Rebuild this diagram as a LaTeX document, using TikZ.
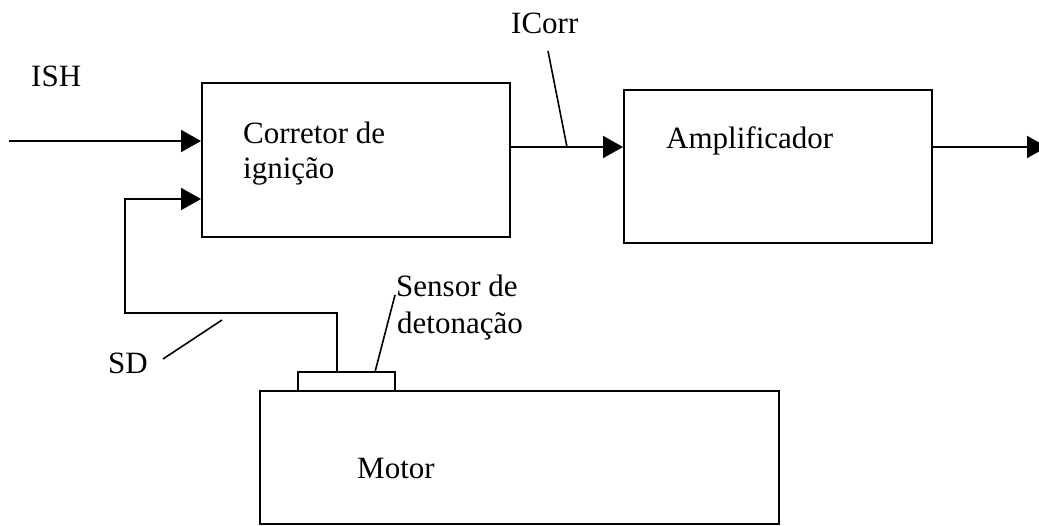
\documentclass[tikz,border=0pt]{standalone}
\usepackage{fontspec}
\setmainfont{Liberation Serif}
\usetikzlibrary{arrows.meta}
\begin{document}
\begin{tikzpicture}[x=1pt,y=-1pt,
  blk/.style={draw,line width=2pt,inner sep=0pt,minimum width=#1},
  lbl/.style={inner sep=0pt,anchor=base west,font=\fontsize{31}{36}\selectfont},
  wire/.style={line width=2pt},
  arr/.style={line width=2pt,-{Triangle[length=20pt,width=22pt]}},
  lead/.style={line width=1.6pt}]
\useasboundingbox (0,0) rectangle (1039,525);
% blocks
\node[blk=308pt,minimum height=154pt] (cor) at (356,160) {};
\node[blk=308pt,minimum height=153pt] (amp) at (778,166.5) {};
\node[blk=519pt,minimum height=133pt] (motor) at (519.5,457.5) {};
\node[blk=97pt,minimum height=19pt] (sensor) at (346.5,381.5) {};
% texts
\node[lbl] (tish) at (31,86) {ISH};
\node[lbl] (ticorr) at (511,33) {ICorr};
\node[lbl] (tcor1) at (243,143) {Corretor de};
\node[lbl] (tcor2) at (243,178) {ignição};
\node[lbl] (tamp) at (666,148) {Amplificador};
\node[lbl] (tsen1) at (396,296) {Sensor de};
\node[lbl] (tsen2) at (397,333) {detonação};
\node[lbl] (tsd) at (108,373) {SD};
\node[lbl] (tmot) at (357,478) {Motor};
% coordinates
\coordinate (ishin) at (9,141);
\coordinate (yl) at (0,147);
\coordinate (out) at (1047,147);
\coordinate (fb1) at (125,313);
\coordinate (fb2) at (337,313);
\coordinate (c2) at (125,199);
% connectors
\draw[arr] (ishin) -- (ishin -| cor.west);
\draw[arr] (sensor.north -| fb2) -- (fb2) -- (fb1) -- (c2) -- (c2 -| cor.west);
\draw[arr] (cor.east |- yl) -- (amp.west |- yl);
\draw[arr] (amp.east |- yl) -- (out);
% leader lines
\coordinate (icA) at (548,51);
\coordinate (icB) at (567,147);
\draw[lead] (icA) -- (icB);
\coordinate (sdA) at (163,359);
\coordinate (sdB) at (222,320);
\draw[lead] (sdA) -- (sdB);
\coordinate (snA) at (375,372);
\coordinate (snB) at (395,295);
\draw[lead] (snA) -- (snB);
\end{tikzpicture}
\end{document}
